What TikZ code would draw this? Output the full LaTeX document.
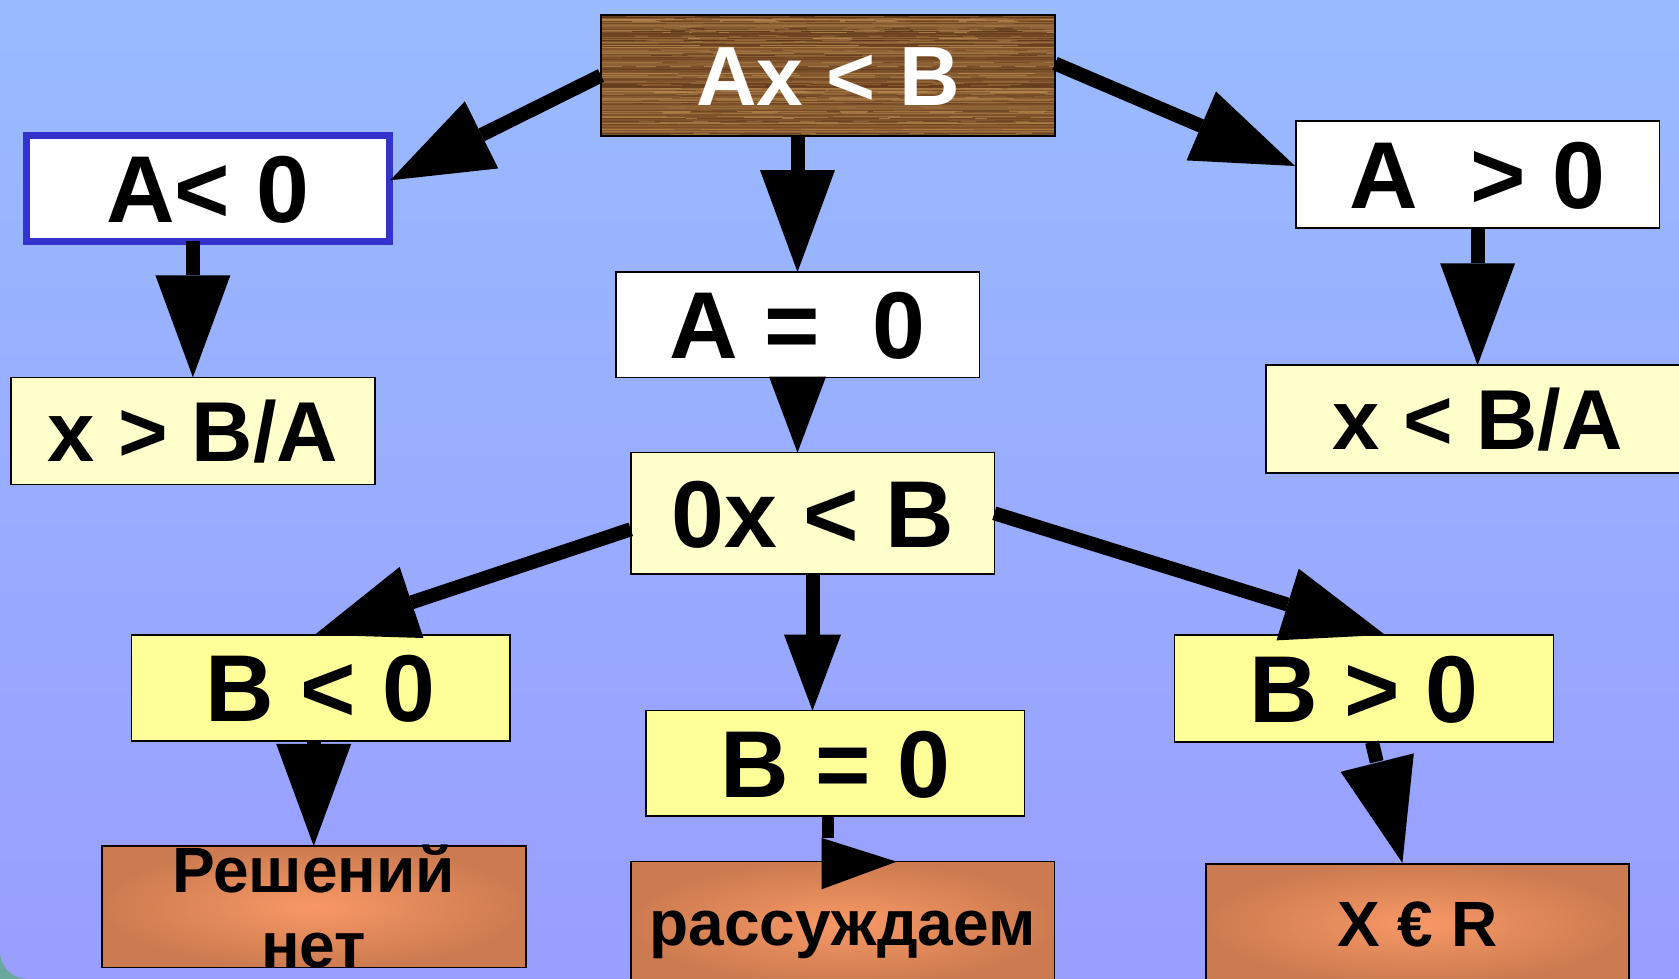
\documentclass[tikz,border=0pt]{standalone}
\usepackage{fontspec}
\setmainfont{Liberation Sans}
\usetikzlibrary{arrows.meta,calc}
\definecolor{bgtop}{HTML}{99BBFF}
\definecolor{bgbot}{HTML}{999EFF}
\definecolor{cornerc}{HTML}{6BA89C}
\definecolor{ylight}{HTML}{FFFFCC}
\definecolor{ybright}{HTML}{FFFF99}
\definecolor{orin}{HTML}{F89866}
\definecolor{orout}{HTML}{CC7B50}
\definecolor{bluebd}{HTML}{3333CC}
\definecolor{wooddark}{HTML}{5A3217}
\definecolor{woodmid}{HTML}{8A5A2D}
\definecolor{woodlight}{HTML}{BA8B50}
\begin{document}
\begin{tikzpicture}[x=1pt,y=-1pt,
  box/.style={rectangle, draw=black, line width=1.6pt, inner sep=0pt, outer sep=0pt},
  ftop/.style={font=\fontsize{84}{100}\selectfont\bfseries, text height=60pt, text depth=0pt},
  fbig/.style={font=\fontsize{95}{114}\selectfont\bfseries, text height=68pt, text depth=0pt},
  fmed/.style={font=\fontsize{85}{102}\selectfont\bfseries, text height=61pt, text depth=0pt},
  fsm/.style={font=\fontsize{64}{77}\selectfont\bfseries, text height=46pt, text depth=0pt},
  orangebox/.style={box, shading=radial, inner color=orin, outer color=orout},
  arr/.style={line width=14pt, -{Triangle[length=102pt,width=75pt,line width=0pt]}},
  arrs/.style={line width=14pt, -{Triangle[length=76pt,width=57pt,line width=0pt]}},
  shaft/.style={line width=12pt},
  headfill/.style={fill=black}
]
\useasboundingbox (0,0) rectangle (1679,979);
% background
\fill[cornerc] (0,900) rectangle (80,979);
\shade[top color=bgtop, bottom color=bgbot]
  (0,0) -- (1679,0) -- (1679,979) -- (28,979)
  .. controls (12.5,979) and (0,966.5) .. (0,951) -- cycle;

% top wooden box
\node[box, line width=2pt, fill=woodmid, text=white, ftop,
  minimum width=454pt, minimum height=121pt,
  path picture={
    \pgfmathsetseed{42}
    \foreach \i in {1,...,150}{
      \pgfmathsetmacro{\yy}{rnd}
      \pgfmathsetmacro{\cc}{int(rnd*100)}
      \pgfmathsetmacro{\ww}{0.5+2.4*rnd}
      \draw[line width=\ww pt, woodlight!\cc!wooddark, opacity=0.7]
        ($(path picture bounding box.north west)!\yy!(path picture bounding box.south west)$) --
        ($(path picture bounding box.north east)!\yy!(path picture bounding box.south east)$);
    }
    \foreach \i in {1,...,120}{
      \pgfmathsetmacro{\yy}{rnd}
      \pgfmathsetmacro{\cc}{int(rnd*100)}
      \pgfmathsetmacro{\aa}{20+80*rnd}
      \pgfmathsetmacro{\bb}{10+60*rnd}
      \draw[line width=1pt, woodlight!\cc!wooddark, opacity=0.8, dash pattern=on \aa pt off \bb pt]
        ($(path picture bounding box.north west)!\yy!(path picture bounding box.south west)$) --
        ($(path picture bounding box.north east)!\yy!(path picture bounding box.south east)$);
    }
  }] (top) at (828,75.5) {Ax < B};

% second level
\node[box, fill=white, draw=bluebd, line width=7pt, fbig,
  minimum width=363pt, minimum height=105.7pt] (lt) at (207.7,188.3) {A< 0};
\node[box, fill=white, fbig, minimum width=363.7pt, minimum height=107.3pt]
  (rt) at (1477.6,174.6) {A\ \ > 0};
\node[box, fill=white, fbig, minimum width=363.6pt, minimum height=105.3pt]
  (mid) at (797.5,324.7) {A =\ \ 0};

\node[box, fill=ylight, fmed, minimum width=364.3pt, minimum height=107pt]
  (lt2) at (192.9,430.8) {x > B/A};
\node[box, fill=ylight, fmed, minimum width=424pt, minimum height=107.9pt]
  (rt2) at (1477.7,419.2) {x < B/A};
\node[box, fill=ylight, fbig, minimum width=363.6pt, minimum height=121.3pt]
  (mid2) at (812.5,513.3) {0x < B};

% third level
\node[box, fill=ybright, fbig, minimum width=378.3pt, minimum height=106pt]
  (bl) at (320.8,687.7) {B < 0};
\node[box, fill=ybright, fbig, minimum width=378.3pt, minimum height=105.3pt]
  (bm) at (835.2,763.3) {B = 0};
\node[box, fill=ybright, fbig, minimum width=378.9pt, minimum height=107.3pt]
  (br) at (1364,688.5) {B > 0};

% bottom level
\node[orangebox, font=\fontsize{64}{75}\selectfont\bfseries, align=center,
  text height=121pt, text depth=0pt,
  minimum width=424pt, minimum height=121.7pt] (bl2) at (313.7,906.8) {Решений\\нет};
\node[orangebox, fsm, minimum width=423.6pt, minimum height=122.3pt]
  (bm2) at (842.5,922.8) {рассуждаем};
\node[orangebox, fsm, minimum width=423.4pt, minimum height=119pt]
  (br2) at (1417.4,923.4) {X € R};

% connectors
\draw[arr] (top.west) -- ($(lt.east)+(1,-8)$);
\draw[arr] ($(top.east)+(0,-12)$) -- ($(rt.west)+(-0.7,-8.6)$);
\draw[arr] (mid.north |- top.south) -- (mid.north);
\draw[arr] (lt2.north |- lt.south) -- (lt2.north);
\draw[arr] (rt.south) -- (rt.south |- rt2.north);
\draw[arrs] (mid.south) -- (mid.south |- mid2.north);
\draw[arr] ($(mid2.west)+(0,16)$) -- ($(bl.north)+(-6,0)$);
\draw[arrs] (mid2.south) -- (mid2.south |- bm.north);
\draw[arr] (mid2.east) -- ($(br.north)+(21,0)$);
\draw[arr] (bl.south -| bl2.north) -- (bl2.north);

% B = 0 -> рассуждаем (bent head)
\coordinate (k) at ($(bm.south)+(-7.7,22)$);
\draw[shaft] ($(bm.south)+(-7.7,0)$) -- (k);
\fill[headfill] ($(k)+(-5.8,0)$) -- ($(k)+(-5.8,51.3)$) -- ($(bm2.north)+(54.2,0)$) -- cycle;

% B > 0 -> X € R (skewed head)
\coordinate (q) at ($(br.south)+(12.7,19.6)$);
\draw[shaft, line width=14pt] ($(br.south)+(8,0)$) -- (q);
\fill[headfill] ($(q)+(-36.1,10.1)$) -- ($(q)+(37.1,-8.4)$) -- ($(br2.north)+(-15,-1)$) -- cycle;
\end{tikzpicture}
\end{document}
